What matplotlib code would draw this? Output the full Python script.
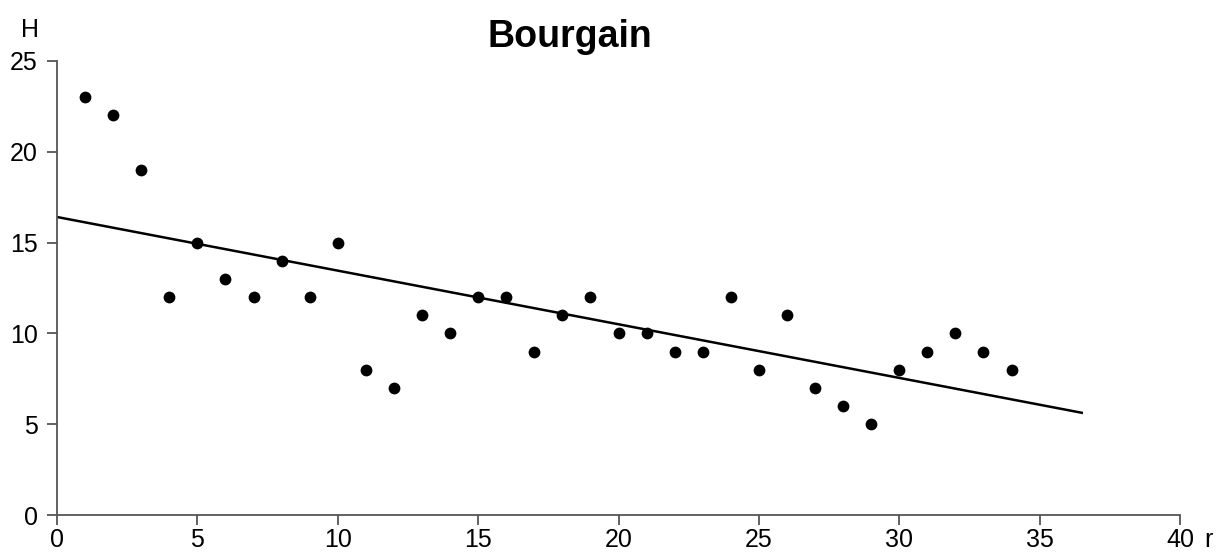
import matplotlib.pyplot as plt

plt.rcParams["font.family"] = ["Liberation Sans", "DejaVu Sans"]

# data
r = list(range(1, 35))
H = [23, 22, 19, 12, 15, 13, 12, 14, 12, 15,
     8, 7, 11, 10, 12, 12, 9, 11, 12, 10,
     10, 9, 9, 12, 8, 11, 7, 6, 5, 8,
     9, 10, 9, 8]

# trend line endpoints
line_r = [0, 36.5]
line_H = [16.41, 5.63]

fig = plt.figure(figsize=(12.18, 5.52), dpi=100)
ax = fig.add_axes([0.0468, 0.067, 0.922, 0.8225])

ax.scatter(r, H, s=72, color="black", zorder=3, linewidths=0)
ax.plot(line_r, line_H, color="black", linewidth=1.8)

ax.set_xlim(0, 40)
ax.set_ylim(0, 25)
ax.set_xticks(range(0, 41, 5))
ax.set_yticks(range(0, 26, 5))

for side in ["top", "right"]:
    ax.spines[side].set_visible(False)
for side in ["left", "bottom"]:
    ax.spines[side].set_color("#555555")
    ax.spines[side].set_linewidth(1.3)

ax.tick_params(axis="both", direction="out", length=7, width=1.3,
               color="#555555", labelsize=18)
ax.tick_params(axis="x", pad=2)
ax.tick_params(axis="y", pad=7)

fig.text(30 / 1218, 1 - 37 / 552, "H", fontsize=18, ha="center",
         va="baseline")
fig.text(1208 / 1218, 1 - 547 / 552, "r", fontsize=18, ha="center",
         va="baseline")
fig.text(570 / 1218, 1 - 47 / 552, "Bourgain", fontsize=27,
         fontweight="bold", ha="center", va="baseline")

fig.savefig("out.png", dpi=100)
